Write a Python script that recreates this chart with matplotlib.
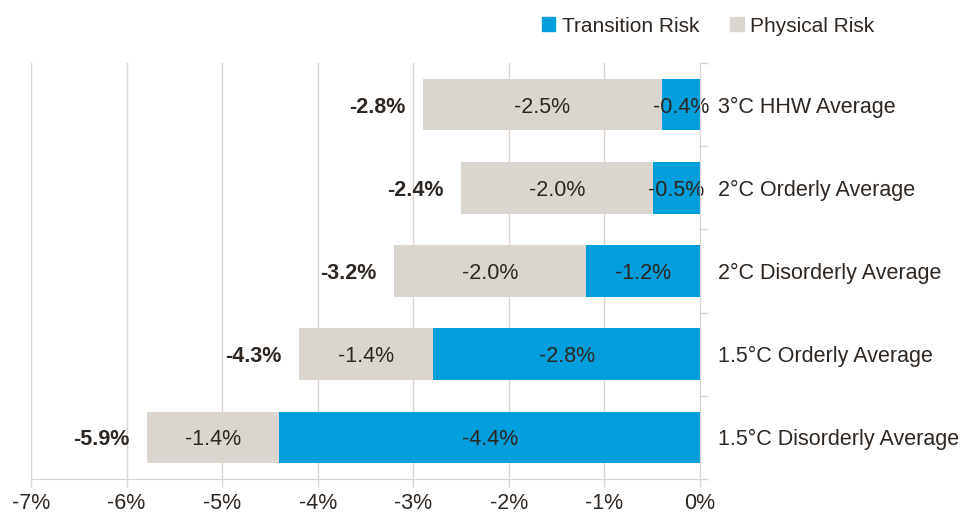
import matplotlib
matplotlib.use("Agg")
import matplotlib.pyplot as plt
from matplotlib.patches import Patch
from matplotlib.ticker import FixedLocator

plt.rcParams['font.family'] = ['Liberation Sans', 'DejaVu Sans']

categories = ["3°C HHW Average", "2°C Orderly Average", "2°C Disorderly Average",
              "1.5°C Orderly Average", "1.5°C Disorderly Average"]
transition = [-0.40, -0.49, -1.19, -2.79, -4.40]
physical = [-2.50, -2.01, -2.01, -1.41, -1.39]
transition_labels = ["-0.4%", "-0.5%", "-1.2%", "-2.8%", "-4.4%"]
physical_labels = ["-2.5%", "-2.0%", "-2.0%", "-1.4%", "-1.4%"]
total_labels = ["-2.8%", "-2.4%", "-3.2%", "-4.3%", "-5.9%"]
xticks = [-7, -6, -5, -4, -3, -2, -1, 0]
xtick_labels = ["-7%", "-6%", "-5%", "-4%", "-3%", "-2%", "-1%", "0%"]

BLUE = "#009EDB"
GREY = "#DAD5CF"
TXT = "#2E2620"
LINE = "#D9D4CF"

fig = plt.figure(figsize=(9.6, 5.14), dpi=100)
ax = fig.add_axes([31/960, 1-479/514, (700-31)/960, (479-63)/514])

y = list(range(len(categories)))
h = 0.62
ax.barh(y, transition, height=h, color=BLUE, zorder=3)
ax.barh(y, physical, left=transition, height=h, color=GREY, zorder=3)

fs = 15.5
for i in y:
    t = transition[i]
    p = physical[i]
    ax.text(t/2, i, transition_labels[i], ha='center', va='center_baseline', fontsize=fs, color=TXT, zorder=4)
    ax.text(t + p/2, i, physical_labels[i], ha='center', va='center_baseline', fontsize=fs, color=TXT, zorder=4)
    ax.text(t + p - 0.18, i, total_labels[i], ha='right', va='center_baseline', fontsize=fs,
            fontweight='bold', color=TXT, zorder=4)

ax.set_xlim(-7, 0)
ax.set_ylim(len(categories)-0.5, -0.5)
ax.set_xticks(xticks)
ax.set_xticklabels(xtick_labels, fontsize=fs, color=TXT)
ax.tick_params(axis='x', length=6, color=LINE, width=1, pad=4)

ax.yaxis.tick_right()
ax.set_yticks(y)
ax.set_yticklabels(categories, fontsize=fs, color=TXT, va='center_baseline')
ax.yaxis.set_minor_locator(FixedLocator([i - 0.5 for i in range(len(categories)+1)]))
ax.tick_params(axis='y', which='major', length=0, pad=13)
ax.tick_params(axis='y', which='minor', length=6, color=LINE, width=1, right=True, left=False)

for s in ['left', 'top']:
    ax.spines[s].set_visible(False)
ax.spines['right'].set_color(LINE)
ax.spines['bottom'].set_color(LINE)
ax.spines['right'].set_zorder(5)

ax.grid(axis='x', color=LINE, linewidth=1, zorder=0)
ax.set_axisbelow(True)

handles = [Patch(color=BLUE, label="Transition Risk"), Patch(color=GREY, label="Physical Risk")]
fig.legend(handles=handles, loc='center', bbox_to_anchor=(708/960, 1-26/514), ncol=2,
           frameon=False, fontsize=15, handlelength=0.65, handleheight=0.65,
           handletextpad=0.3, columnspacing=1.5, labelcolor=TXT)

fig.savefig("out.png", dpi=100)
